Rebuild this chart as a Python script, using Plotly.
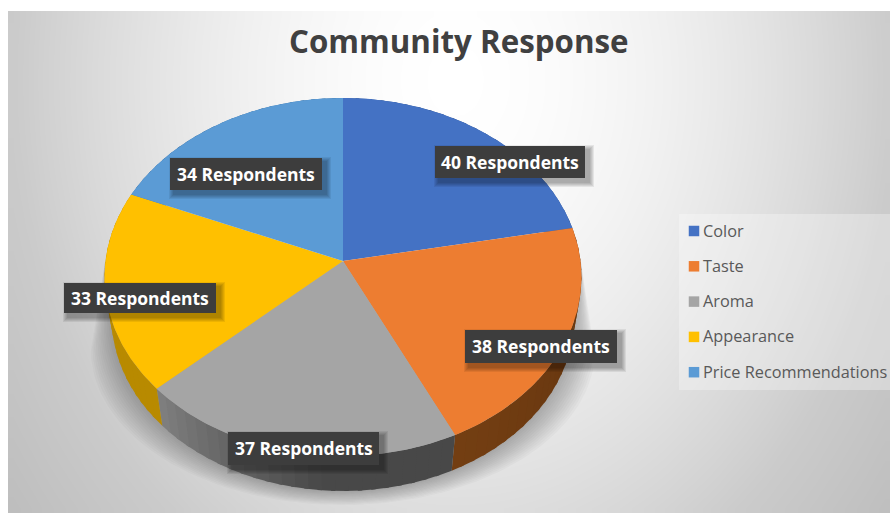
import numpy as np
import plotly.graph_objects as go

# Survey results
categories = ["Color", "Taste", "Aroma", "Appearance", "Price Recommendations"]
respondents = [40, 38, 37, 33, 34]
top_colors = ["#4472C4", "#ED7D31", "#A5A5A5", "#FFC000", "#5B9BD5"]
side_from = ["#2F5597", "#733E12", "#7E7E7E", "#C99700", "#3E78AE"]
side_to = ["#2F5597", "#693810", "#484848", "#B88A00", "#3E78AE"]
label_boxes = [(435, 146, 585, 178), (465, 330, 617, 363), (228, 432, 379, 465),
               (64, 283, 216, 313), (170, 158, 322, 190)]

W, H = 890, 513
AREA = (8, 11, 890, 513)
HUB_X, HUB_Y = 343.0, 261.0
SCALE_X, SCALE_Y, TILT = 237.5, 177.6, 0.0893
FACE_CY = 277.0
BASE_CY, BASE_SCALE = 317.4, 0.97


def project(theta):
    """Tilted-disc projection; theta is degrees clockwise from twelve o'clock."""
    t = np.radians(theta)
    u, v = np.sin(t), np.cos(t)
    w = 1 + TILT * v
    return HUB_X + SCALE_X * u / w, HUB_Y - SCALE_Y * v / w


def to_base(x, y):
    return HUB_X + BASE_SCALE * (x - HUB_X), BASE_CY + BASE_SCALE * (y - FACE_CY)


def mix(a, b, f):
    ca = [int(a[i:i + 2], 16) for i in (1, 3, 5)]
    cb = [int(b[i:i + 2], 16) for i in (1, 3, 5)]
    return "rgb(%d,%d,%d)" % tuple(round(p + (q - p) * f) for p, q in zip(ca, cb))


fig = go.Figure()

# Chart-area backdrop: soft grey vignette around a bright centre
nx, ny = 90, 50
hx, hy = (AREA[2] - AREA[0]) / nx / 2, (AREA[3] - AREA[1]) / ny / 2
gx = np.linspace(AREA[0] + hx, AREA[2] - hx, nx)
gy = np.linspace(AREA[1] + hy, AREA[3] - hy, ny)
xx, yy = np.meshgrid(gx, gy)
dist = np.hypot((xx - 455) / 440, (yy - 80) / 560)
fade = np.where(dist <= 1, 52 * dist ** 1.7, 52 + 50 * (dist - 1))
fig.add_trace(go.Heatmap(x=gx, y=gy, z=255 - fade, zmin=0, zmax=255, zsmooth="best",
                         colorscale=[[0, "rgb(0,0,0)"], [1, "rgb(255,255,255)"]],
                         showscale=False, hoverinfo="skip"))

# Soft cast shadow below and beside the disc
arc = np.linspace(90, 270, 120)
for k in range(14):
    f = k / 13
    sx = 231 + 21 * f
    sy = 174 - 19 * f
    cy = 317 + 33 * f
    px = HUB_X + sx * np.sin(np.radians(arc))
    py = cy - sy * np.cos(np.radians(arc))
    px = np.r_[HUB_X + 238, px, HUB_X - 238]
    py = np.r_[262, py, 262]
    fig.add_trace(go.Scatter(x=px, y=py, mode="lines", fill="toself",
                             fillcolor="rgba(70,70,70,0.032)", line=dict(width=0),
                             hoverinfo="skip", showlegend=False))

total = sum(respondents)
edges = np.r_[0, np.cumsum(respondents)] / total * 360

# Extruded rim, shaded along each slice; strips overlap so no seams show
for i in range(len(respondents)):
    cuts = np.linspace(edges[i], edges[i + 1], 25)
    for j in range(24):
        th = np.linspace(cuts[j], min(cuts[j + 1] + 1.0, edges[i + 1]), 6)
        x1, y1 = project(th)
        x2, y2 = to_base(x1, y1)
        c = mix(side_from[i], side_to[i], min(1, (1 - j / 23) * 1.7))
        fig.add_trace(go.Scatter(x=np.r_[x1, x2[::-1]], y=np.r_[y1, y2[::-1]],
                                 mode="lines", fill="toself", fillcolor=c,
                                 line=dict(width=0),
                                 hoverinfo="skip", showlegend=False))

# Top face of every slice
for i, name in enumerate(categories):
    th = np.linspace(edges[i], edges[i + 1], 90)
    x1, y1 = project(th)
    fig.add_trace(go.Scatter(x=np.r_[HUB_X, x1, HUB_X], y=np.r_[HUB_Y, y1, HUB_Y],
                             mode="lines", fill="toself", fillcolor=top_colors[i],
                             line=dict(width=0), name=name,
                             text=f"{name}: {respondents[i]}", hoverinfo="text",
                             showlegend=False))

# Key on the right, on a faint translucent panel
fig.add_trace(go.Scatter(x=[679, 890, 890, 679, 679], y=[214, 214, 390, 390, 214],
                         mode="lines", fill="toself", fillcolor="rgba(255,255,255,0.3)",
                         line=dict(width=0), hoverinfo="skip", showlegend=False))
key_x, key_y, key_gap = 694, 231, 35.3
key_ys = [key_y + i * key_gap for i in range(len(categories))]
fig.add_trace(go.Scatter(x=[key_x] * len(categories), y=key_ys, mode="markers",
                         marker=dict(symbol="square", size=10.5, color=top_colors, line=dict(width=0)),
                         hoverinfo="skip", showlegend=False))
fig.add_trace(go.Scatter(x=[key_x + 9] * len(categories), y=[v + 1.5 for v in key_ys], mode="text",
                         text=categories, textposition="middle right",
                         textfont=dict(family="Open Sans", size=16.3, color="#595959"),
                         hoverinfo="skip", showlegend=False))

shapes = []
annotations = []
for i, (x0, y0, x1, y1) in enumerate(label_boxes):
    for k in range(5, 0, -1):
        shapes.append(dict(type="rect", layer="above", x0=x0 - k + 4, x1=x1 + k + 4,
                           y0=y0 - k + 4, y1=y1 + k + 4,
                           fillcolor="rgba(0,0,0,0.07)", line_width=0))
    shapes.append(dict(type="rect", layer="above", x0=x0, x1=x1, y0=y0, y1=y1,
                       fillcolor="#3D3D3D", line_width=0))
    annotations.append(dict(x=(x0 + x1) / 2, y=(y0 + y1) / 2 - 0.5, xanchor="center", yanchor="middle",
                            text=f"{respondents[i]} Respondents", showarrow=False,
                            font=dict(family="Open Sans", size=17.5, color="#FFFFFF", weight=700)))

annotations.append(dict(x=459, y=41, xanchor="center", yanchor="middle", text="Community Response",
                        showarrow=False,
                        font=dict(family="Open Sans", size=31.3, color="#404040", weight=700)))

fig.update_layout(
    width=W, height=H, margin=dict(l=0, r=0, t=0, b=0),
    paper_bgcolor="#FFFFFF", plot_bgcolor="#FFFFFF", showlegend=False,
    xaxis=dict(range=[0, W], visible=False, fixedrange=True),
    yaxis=dict(range=[H, 0], visible=False, fixedrange=True),
    shapes=shapes, annotations=annotations,
)
fig.write_html("out.html", config=dict(displayModeBar=False))
